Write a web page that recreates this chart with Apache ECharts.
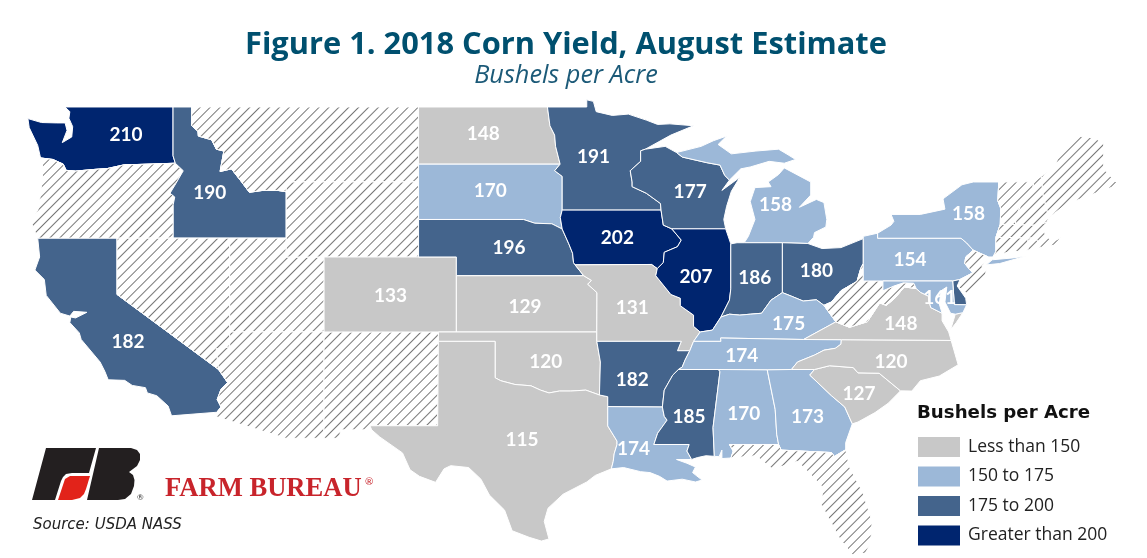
<!DOCTYPE html>
<html>
<head>
<meta charset="utf-8">
<title>Figure 1. 2018 Corn Yield, August Estimate</title>
<script src="https://cdn.jsdelivr.net/npm/echarts@6/dist/echarts.min.js"></script>
<style>
html,body{margin:0;padding:0;background:#fff;}
#chart{width:1147px;height:558px;}
</style>
</head>
<body>
<div id="chart"></div>
<script>
// values
var stateNames=["WA","ID","CA","ND","SD","NE","CO","KS","OK","TX","MN","IA","MO","AR","LA","WI","IL","MS","MI","IN","OH","KY","TN","AL","GA","SC","NC","VA","PA","NY","MD","DE"];
var stateValues=[210,190,182,148,170,196,133,129,120,115,191,202,131,182,174,177,207,185,158,186,180,175,174,170,173,127,120,148,154,158,161,180];
// states with no estimate, hatched
var noEstimateStates=["OR","NV","UT","AZ","NM","MT","WY","WV","NJ","CT","RI","MA","VT","NH","ME","FL"];
var legendLabels=["Less than 150","150 to 175","175 to 200","Greater than 200"];
var legendColors=["#c8c8c8","#9cb8d8","#44648c","#00256f"];

// [lon,lat] where the number sits inside each state
var labelCenters={
    WA:[-119.53,47.49],ID:[-115.1,44.4],CA:[-119.42,36.46],ND:[-100.63,47.59],SD:[-100.26,44.51],NE:[-99.26,41.49],
    CO:[-105.53,38.95],KS:[-98.42,38.35],OK:[-97.32,35.43],TX:[-98.58,31.27],MN:[-94.79,46.35],IA:[-93.53,42.03],
    MO:[-92.74,38.3],AR:[-92.74,34.46],LA:[-92.68,30.78],WI:[-89.68,44.46],IL:[-89.37,39.92],MS:[-89.74,32.46],
    MI:[-85.16,43.76],IN:[-86.26,39.86],OH:[-83.0,40.24],KY:[-84.47,37.43],TN:[-86.95,35.7],AL:[-86.84,32.62],
    GA:[-83.47,32.46],SC:[-80.74,33.7],NC:[-79.05,35.43],VA:[-78.53,37.43],PA:[-78.05,40.84],NY:[-74.95,43.32],
    MD:[-76.47,38.84],DE:[-75.4,39]
};

// simplified state outlines, lon/lat, for registerMap
var stateShapes={
    WA:[[[-117.04,49],[-122.76,49],[-122.5,48.75],[-122.55,48.4],[-122.35,47.95],[-122.4,47.4],[-122.9,47.1],[-122.65,47.75],[-122.75,48.15],[-123.2,48.15],[-124,48.17],[-124.72,48.38],[-124.65,47.9],[-124.2,46.95],[-124.05,46.28],[-123.4,46.2],[-122.85,45.95],[-122.7,45.62],[-122.2,45.58],[-121.2,45.67],[-120.5,45.72],[-119.6,45.92],[-119,45.93],[-116.92,46],[-117.04,46.4]]],
    OR:[[[-124.05,46.28],[-123.4,46.2],[-122.85,45.95],[-122.7,45.62],[-122.2,45.58],[-121.2,45.67],[-120.5,45.72],[-119.6,45.92],[-119,45.93],[-116.92,46],[-116.5,45.6],[-116.9,44.9],[-117.2,44.4],[-116.95,44.2],[-117.03,43.8],[-117.03,42],[-124.2,42],[-124.55,42.85],[-124.15,43.6],[-123.95,45.2],[-123.95,46.2]]],
    ID:[[[-117.04,49],[-116.05,49],[-116.05,48],[-115.72,47.7],[-115.7,47.45],[-115,47.25],[-114.75,46.75],[-114.35,46.65],[-114.47,46],[-114.55,45.56],[-113.95,45.7],[-113.45,45.05],[-113,44.45],[-112.3,44.55],[-111.5,44.55],[-111.05,44.48],[-111.05,42],[-117.03,42],[-117.03,43.8],[-116.95,44.2],[-117.2,44.4],[-116.9,44.9],[-116.5,45.6],[-116.92,46],[-117.04,46.4]]],
    CA:[[[-124.2,42],[-120,42],[-120,39],[-114.63,35],[-114.15,34.3],[-114.5,33.95],[-114.7,33.4],[-114.5,33],[-114.72,32.72],[-117.12,32.53],[-117.3,33.05],[-117.9,33.6],[-118.4,33.75],[-118.5,34.03],[-119.2,34.15],[-119.6,34.42],[-120.47,34.45],[-120.65,34.9],[-120.9,35.4],[-121.9,36.6],[-122,36.95],[-122.5,37.5],[-122.45,37.8],[-122.2,37.75],[-121.6,38.05],[-122.3,38.1],[-122.5,37.85],[-123,38],[-123.75,38.95],[-123.85,39.8],[-124.35,40.3],[-124.1,41]]],
    NV:[[[-120,42],[-114.04,42],[-114.04,36.2],[-114.75,36.1],[-114.63,35],[-120,39]]],
    UT:[[[-114.04,42],[-111.05,42],[-111.05,41],[-109.05,41],[-109.05,37],[-114.04,37]]],
    AZ:[[[-114.04,37],[-109.05,37],[-109.05,31.33],[-111.07,31.33],[-114.81,32.5],[-114.72,32.72],[-114.5,33],[-114.7,33.4],[-114.5,33.95],[-114.15,34.3],[-114.63,35],[-114.75,36.1],[-114.04,36.2]]],
    NM:[[[-109.05,37],[-103,37],[-103.04,32],[-106.62,32],[-106.53,31.78],[-108.2,31.78],[-108.2,31.33],[-109.05,31.33]]],
    MT:[[[-116.05,49],[-104.05,49],[-104.05,45],[-111.05,45],[-111.05,44.48],[-111.5,44.55],[-112.3,44.55],[-113,44.45],[-113.45,45.05],[-113.95,45.7],[-114.55,45.56],[-114.47,46],[-114.35,46.65],[-114.75,46.75],[-115,47.25],[-115.7,47.45],[-115.72,47.7],[-116.05,48]]],
    WY:[[[-111.05,45],[-104.05,45],[-104.05,41],[-111.05,41]]],
    CO:[[[-109.05,41],[-102.05,41],[-102.05,37],[-109.05,37]]],
    ND:[[[-104.05,49],[-97.23,49],[-97.1,48],[-96.85,47.5],[-96.8,46.9],[-96.56,45.95],[-104.05,45.95]]],
    SD:[[[-104.05,45.95],[-96.56,45.95],[-96.85,45.6],[-96.45,45.3],[-96.45,43.5],[-96.55,43.1],[-96.45,42.49],[-97,42.77],[-97.9,42.8],[-98.5,43],[-104.05,43]]],
    NE:[[[-104.05,43],[-98.5,43],[-97.9,42.8],[-97,42.77],[-96.45,42.49],[-96.1,41.7],[-95.9,41.2],[-95.85,40.7],[-95.77,40.58],[-95.31,40],[-102.05,40],[-102.05,41],[-104.05,41]]],
    KS:[[[-102.05,40],[-95.31,40],[-94.9,39.75],[-95.1,39.55],[-94.61,39.1],[-94.62,37],[-102.05,37]]],
    OK:[[[-103,37],[-94.62,37],[-94.62,36.5],[-94.43,35.4],[-94.48,33.64],[-95.2,33.9],[-96,33.85],[-96.6,33.85],[-97.15,33.75],[-97.6,33.9],[-98.1,34.13],[-98.95,34.2],[-99.7,34.4],[-100,34.56],[-100,36.5],[-103,36.5]]],
    TX:[[[-103,36.5],[-100,36.5],[-100,34.56],[-99.7,34.4],[-98.95,34.2],[-98.1,34.13],[-97.6,33.9],[-97.15,33.75],[-96.6,33.85],[-96,33.85],[-95.2,33.9],[-94.48,33.64],[-94.04,33.55],[-94.04,33.02],[-94.04,31.99],[-93.55,31.18],[-93.55,31],[-93.7,30.5],[-93.75,30.1],[-93.85,29.7],[-94.7,29.35],[-95.15,29],[-96.4,28.35],[-97.2,27.6],[-97.4,26.9],[-97.15,25.96],[-97.55,25.85],[-98.2,26.05],[-99.1,26.4],[-99.5,27.5],[-100.3,28.3],[-100.75,29.15],[-101.4,29.77],[-102.35,29.87],[-102.7,29.7],[-103.15,28.98],[-104,29.3],[-104.5,29.65],[-104.9,30.55],[-106.1,31.4],[-106.53,31.78],[-106.62,32],[-103.04,32]]],
    MN:[[[-97.23,49],[-95.15,49],[-95.15,49.38],[-94.8,49.3],[-94.65,48.75],[-93.8,48.55],[-92.95,48.62],[-92,48.3],[-91.4,48.07],[-90.75,48.1],[-89.5,48],[-90.7,47.5],[-92.05,46.75],[-92.3,46.66],[-92.3,46.1],[-92.85,45.6],[-92.75,45],[-92.75,44.75],[-92,44.4],[-91.25,43.85],[-91.22,43.5],[-96.45,43.5],[-96.45,45.3],[-96.85,45.6],[-96.56,45.95],[-96.8,46.9],[-96.85,47.5],[-97.1,48]]],
    IA:[[[-96.45,43.5],[-91.22,43.5],[-91.1,42.7],[-90.65,42.5],[-90.15,41.9],[-90.35,41.55],[-91.05,41.25],[-91.1,40.7],[-91.42,40.38],[-91.72,40.6],[-95.77,40.58],[-95.85,40.7],[-95.9,41.2],[-96.1,41.7],[-96.45,42.49],[-96.55,43.1]]],
    MO:[[[-95.77,40.58],[-91.72,40.6],[-91.42,40.38],[-91.5,40],[-90.7,39],[-90.2,38.8],[-90.2,38.4],[-89.5,37.9],[-89.5,37.3],[-89.15,37],[-89.5,36.5],[-89.7,36],[-90.35,36],[-90.15,36.5],[-94.62,36.5],[-94.62,37],[-94.61,39.1],[-95.1,39.55],[-94.9,39.75],[-95.31,40]]],
    AR:[[[-94.62,36.5],[-90.15,36.5],[-90.35,36],[-89.7,36],[-89.95,35.5],[-90.1,35.13],[-90.3,35],[-90.6,34.7],[-91.05,33.9],[-91.15,33],[-94.04,33.02],[-94.04,33.55],[-94.48,33.64],[-94.43,35.4]]],
    LA:[[[-94.04,33.02],[-91.15,33],[-91.05,32.5],[-90.9,32.3],[-91.4,31.6],[-91.6,31],[-89.73,31],[-89.85,30.65],[-89.6,30.2],[-90.4,30.2],[-89.85,30],[-89.4,29.8],[-89.55,29.5],[-89.05,29.1],[-89.4,29],[-90.1,29.15],[-90.9,29.05],[-91.3,29.3],[-91.8,29.5],[-92.3,29.55],[-93.2,29.77],[-93.85,29.7],[-93.75,30.1],[-93.7,30.5],[-93.55,31],[-93.55,31.18],[-94.04,31.99]]],
    WI:[[[-92.05,46.75],[-91,46.9],[-90.4,46.57],[-90.1,46.33],[-88.8,46.03],[-88.1,45.9],[-87.85,45.35],[-87.6,45.1],[-88,44.55],[-87.05,45.25],[-87.5,44.5],[-87.75,43.7],[-87.9,43],[-87.8,42.5],[-90.65,42.5],[-91.1,42.7],[-91.22,43.5],[-91.25,43.85],[-92,44.4],[-92.75,44.75],[-92.75,45],[-92.85,45.6],[-92.3,46.1],[-92.3,46.66]]],
    IL:[[[-90.65,42.5],[-87.8,42.5],[-87.53,41.7],[-87.53,39.3],[-87.6,38.7],[-88.05,37.8],[-88.5,37.1],[-89.15,37],[-89.5,37.3],[-89.5,37.9],[-90.2,38.4],[-90.2,38.8],[-90.7,39],[-91.5,40],[-91.42,40.38],[-91.1,40.7],[-91.05,41.25],[-90.35,41.55],[-90.15,41.9]]],
    MS:[[[-90.3,35],[-88.2,35],[-88.1,34.9],[-88.47,31.9],[-88.4,30.37],[-88.85,30.4],[-89.3,30.3],[-89.6,30.2],[-89.85,30.65],[-89.73,31],[-91.6,31],[-91.4,31.6],[-90.9,32.3],[-91.05,32.5],[-91.15,33],[-91.05,33.9],[-90.6,34.7]]],
    MI:[[[-86.82,41.76],[-84.8,41.76],[-83.45,41.72],[-83.15,42.05],[-83.1,42.3],[-82.5,42.6],[-82.45,43],[-82.6,43.9],[-83,44.07],[-83.9,43.65],[-83.3,44.3],[-83.3,45],[-84.7,45.75],[-85,45.4],[-85.55,45],[-85.4,44.75],[-86.25,44.7],[-86.5,43.95],[-86.25,43],[-86.6,42.1]],
        [[-90.4,46.57],[-89.1,46.9],[-88.45,47.2],[-87.75,47.45],[-88.2,47],[-87.5,46.5],[-86.2,46.65],[-85,46.75],[-84.5,46.45],[-84.1,46.2],[-84.7,46],[-85.5,46.1],[-86.5,45.8],[-87,45.7],[-87.6,45.1],[-87.85,45.35],[-88.1,45.9],[-88.8,46.03],[-90.1,46.33]]],
    IN:[[[-87.53,41.7],[-87.2,41.76],[-86.82,41.76],[-84.8,41.76],[-84.8,39.1],[-85.4,38.7],[-85.9,38],[-86.5,37.95],[-87.05,37.9],[-87.6,37.95],[-88.05,37.8],[-87.6,38.7],[-87.53,39.3]]],
    OH:[[[-84.8,41.76],[-83.45,41.72],[-82.7,41.45],[-81.7,41.5],[-80.52,41.98],[-80.52,40.64],[-80.65,40.4],[-80.85,39.7],[-81.7,39.2],[-82.2,38.6],[-82.6,38.42],[-83,38.72],[-83.7,38.65],[-84.3,38.9],[-84.8,39.1]]],
    KY:[[[-89.5,36.5],[-89.15,37],[-88.5,37.1],[-88.05,37.8],[-87.6,37.95],[-87.05,37.9],[-86.5,37.95],[-85.9,38],[-85.4,38.7],[-84.8,39.1],[-84.3,38.9],[-83.7,38.65],[-83,38.72],[-82.6,38.42],[-81.97,37.54],[-83.68,36.6],[-88.07,36.68],[-88.05,36.5]]],
    TN:[[[-89.5,36.5],[-88.05,36.5],[-88.07,36.68],[-83.68,36.6],[-81.68,36.59],[-81.7,36.35],[-82,36.13],[-82.6,36.03],[-83.1,35.77],[-84,35.4],[-84.32,35],[-85.6,34.98],[-88.2,35],[-90.3,35],[-90.1,35.13],[-89.95,35.5],[-89.7,36]]],
    AL:[[[-88.2,35],[-85.6,34.98],[-85.18,32.87],[-85.1,31.55],[-85,31],[-87.6,31],[-87.4,30.65],[-87.52,30.28],[-88,30.25],[-88,30.7],[-88.15,30.35],[-88.4,30.37],[-88.47,31.9],[-88.1,34.9]]],
    GA:[[[-85.6,34.98],[-84.32,35],[-83.1,35],[-83.35,34.7],[-82.2,33.6],[-81.5,33],[-81.1,32.1],[-81.45,31.1],[-81.45,30.72],[-82.05,30.36],[-82.2,30.57],[-84.86,30.7],[-85,31],[-85.1,31.55],[-85.18,32.87]]],
    FL:[[[-87.6,31],[-85,31],[-84.86,30.7],[-82.2,30.57],[-82.05,30.36],[-81.45,30.72],[-81.25,29.8],[-80.55,28.45],[-80.05,26.9],[-80.13,25.75],[-80.4,25.2],[-81.1,25.13],[-81.75,25.95],[-82.2,26.8],[-82.75,27.8],[-82.65,28.7],[-83.4,29.5],[-84,30.1],[-85.3,29.68],[-86.2,30.4],[-87.52,30.28],[-87.4,30.65]]],
    SC:[[[-83.1,35],[-82.3,35.2],[-81.05,35.1],[-80.8,34.82],[-79.68,34.8],[-78.55,33.86],[-79.2,33.2],[-79.9,32.7],[-80.8,32.2],[-81.1,32.1],[-81.5,33],[-82.2,33.6],[-83.35,34.7]]],
    NC:[[[-84.32,35],[-84,35.4],[-83.1,35.77],[-82.6,36.03],[-82,36.13],[-81.7,36.35],[-81.68,36.59],[-75.87,36.55],[-75.5,35.25],[-76.5,34.65],[-77.5,34.4],[-77.95,33.85],[-78.55,33.86],[-79.68,34.8],[-80.8,34.82],[-81.05,35.1],[-82.3,35.2],[-83.1,35]]],
    VA:[[[-83.68,36.6],[-81.68,36.59],[-75.87,36.55],[-76,37],[-76.35,37.6],[-76.35,38],[-76.95,38.3],[-77.05,38.7],[-77.05,38.9],[-77.5,39.12],[-77.72,39.32],[-78.35,39.4],[-78.85,38.8],[-79.3,38.42],[-79.65,38.55],[-80.3,37.55],[-81.25,37.25],[-81.97,37.54]],
        [[-75.9,37.12],[-75.65,37.95],[-75.25,38.03],[-75.6,37.5]]],
    WV:[[[-82.6,38.42],[-82.2,38.6],[-81.7,39.2],[-80.85,39.7],[-80.65,40.4],[-80.52,40.64],[-80.52,39.72],[-79.48,39.72],[-79.48,39.2],[-78.9,39.45],[-78.4,39.62],[-77.85,39.6],[-77.72,39.32],[-78.35,39.4],[-78.85,38.8],[-79.3,38.42],[-79.65,38.55],[-80.3,37.55],[-81.25,37.25],[-81.97,37.54]]],
    PA:[[[-80.52,41.98],[-80.52,42.1],[-79.76,42.27],[-79.76,42],[-75.35,42],[-75.05,41.75],[-74.7,41.36],[-75.1,41],[-75.15,40.65],[-74.73,40.15],[-75.4,39.8],[-75.79,39.72],[-80.52,39.72],[-80.52,40.64]]],
    NY:[[[-79.76,42.27],[-79.05,42.7],[-78.9,42.9],[-79.05,43.27],[-77.5,43.27],[-76.2,43.55],[-76.3,44.1],[-75.3,44.85],[-74.7,45],[-73.35,45],[-73.4,44],[-73.25,43.6],[-73.27,42.75],[-73.5,42.05],[-73.5,41.3],[-73.65,41],[-73.9,41],[-74.7,41.36],[-75.05,41.75],[-75.35,42],[-79.76,42]],
        [[-74,40.58],[-73.3,40.65],[-71.9,41.05],[-72.6,40.95],[-73.7,40.85]]],
    NJ:[[[-74.7,41.36],[-73.9,41],[-74.25,40.5],[-74,40.4],[-74.1,39.75],[-74.9,38.95],[-75.55,39.45],[-75.4,39.8],[-74.73,40.15],[-75.15,40.65],[-75.1,41]]],
    DE:[[[-75.79,39.72],[-75.4,39.8],[-75.55,39.45],[-75.1,38.8],[-75.05,38.45],[-75.7,38.46]]],
    MD:[[[-79.48,39.72],[-75.79,39.72],[-75.7,38.46],[-75.05,38.45],[-75.25,38.03],[-75.65,37.95],[-75.9,38],[-76.2,38.6],[-76.1,39.4],[-76.4,39.2],[-76.5,38.5],[-76.35,38],[-76.95,38.3],[-77.05,38.7],[-77.05,38.9],[-77.5,39.12],[-77.72,39.32],[-77.85,39.6],[-78.4,39.62],[-78.9,39.45],[-79.48,39.2]]],
    CT:[[[-73.65,41],[-73.5,41.3],[-73.5,42.05],[-71.8,42.02],[-71.8,41.35],[-72.9,41.25]]],
    RI:[[[-71.8,42.02],[-71.38,42.02],[-71.15,41.5],[-71.8,41.35]]],
    MA:[[[-73.5,42.05],[-73.27,42.75],[-72.46,42.73],[-71.3,42.7],[-70.8,42.87],[-70.95,42.3],[-70.55,41.8],[-70,42.05],[-69.95,41.7],[-70.9,41.55],[-71.15,41.5],[-71.38,42.02],[-71.8,42.02]]],
    VT:[[[-73.35,45],[-71.5,45.01],[-71.55,44.6],[-72.05,44.1],[-72.45,43.1],[-72.46,42.73],[-73.27,42.75],[-73.25,43.6],[-73.4,44]]],
    NH:[[[-71.5,45.01],[-71.1,45.3],[-71,44.3],[-70.7,43.1],[-70.8,42.87],[-71.3,42.7],[-72.46,42.73],[-72.45,43.1],[-72.05,44.1],[-71.55,44.6]]],
    ME:[[[-71.1,45.3],[-70.4,45.75],[-70.25,46.2],[-70,46.7],[-69.25,47.45],[-68.3,47.35],[-67.8,47.07],[-67.8,45.7],[-67.45,45.3],[-67,44.85],[-68.5,44.3],[-69.8,43.8],[-70.7,43.1],[-71,44.3]]]
};

var features=[];
for(var code in stateShapes){
    var polys=stateShapes[code].map(function(ring){return [ring.concat([ring[0]])];});
    features.push({
        type:"Feature",
        properties:{name:code,cp:labelCenters[code]},
        geometry:{type:"MultiPolygon",coordinates:polys}
    });
}
echarts.registerMap("usa",{type:"FeatureCollection",features:features});

var hatch={color:"#777",dashArrayX:[1,0],dashArrayY:[1,6],symbolSize:1,rotation:-Math.PI/4};

var mapData=stateNames.map(function(name,i){
    var item={name:name,value:stateValues[i]};
    if(name==="DE")item.label={show:false};
    return item;
});
noEstimateStates.forEach(function(name){
    mapData.push({name:name,value:NaN,itemStyle:{areaColor:"#fff",decal:hatch}});
});

var myChart=echarts.init(document.getElementById("chart"),null,{renderer:"canvas"});
myChart.setOption({
    backgroundColor:"#fff",
    animation:false,
    title:[
        {text:"Figure 1. 2018 Corn Yield, August Estimate",left:566,top:30,padding:0,textAlign:"center",
            textStyle:{fontFamily:"Open Sans",fontWeight:"bold",fontSize:30.8,color:"#00506f"}},
        {text:"Bushels per Acre",left:566,top:63,padding:0,textAlign:"center",
            textStyle:{fontFamily:"Open Sans",fontStyle:"italic",fontWeight:"normal",fontSize:25.3,color:"#1c5a78"}},
        {text:"Bushels per Acre",left:917,top:404,padding:0,
            textStyle:{fontFamily:"DejaVu Sans",fontWeight:"bold",fontSize:18.2,color:"#111"}},
        {text:"Source: USDA NASS",left:33,top:518,padding:0,
            textStyle:{fontFamily:"DejaVu Sans",fontStyle:"italic",fontWeight:"normal",fontSize:15,color:"#222"}}
    ],
    visualMap:{
        type:"piecewise",
        seriesIndex:0,
        left:918,
        top:437,
        orient:"vertical",
        inverse:true,
        align:"left",
        itemWidth:42,
        itemHeight:20,
        itemGap:9.5,
        itemSymbol:"rect",
        textGap:8,
        padding:0,
        selectedMode:false,
        hoverLink:false,
        showLabel:true,
        textStyle:{fontFamily:"Open Sans",fontSize:17.5,color:"#222"},
        pieces:[
            {lt:150,label:legendLabels[0],color:legendColors[0]},
            {gte:150,lte:175,label:legendLabels[1],color:legendColors[1]},
            {gt:175,lte:200,label:legendLabels[2],color:legendColors[2]},
            {gt:200,label:legendLabels[3],color:legendColors[3]}
        ],
        outOfRange:{color:"#fff"}
    },
    series:[{
        type:"map",
        map:"usa",
        silent:true,
        roam:false,
        showLegendSymbol:false,
        boundingCoords:[[-125,49.5],[-67,25]],
        left:22.6,
        top:97.6,
        width:1096.2,
        height:459.4,
        itemStyle:{borderColor:"#fff",borderWidth:1,areaColor:"#fff"},
        label:{
            show:true,
            color:"#fff",
            fontFamily:"Lato",
            fontWeight:"bold",
            fontSize:19,
            formatter:function(p){return isNaN(p.value)?"":String(p.value);}
        },
        emphasis:{disabled:true},
        data:mapData
    }],
    graphic:[
        {type:"polygon",shape:{points:[[46,448],[96,448],[89,473],[72,473],[66,474],[63,477],[61,481],[55,500],[32,500]]},style:{fill:"#231f20"}},
        {type:"polygon",shape:{points:[[70,476],[90,476],[86,489],[84,494],[80,498],[72,500],[58,500],[63,485],[65,479]]},style:{fill:"#e2231a"}},
        {type:"polygon",shape:{points:[[99,448],[131,448],[137,450],[140,454],[140,460],[137,466],[129,472],[133,475],[134.5,480],[134,486],[131,494],[125,499],[118,500],[87,500]]},style:{fill:"#231f20"}},
        {type:"text",x:137,y:493,style:{text:"®",font:"8px Lato",fill:"#333"}},
        {type:"text",x:165,y:476,style:{text:"FARM BUREAU",font:"bold 26.6px 'Liberation Serif'",fill:"#c8242b"}},
        {type:"text",x:365,y:477,style:{text:"®",font:"10px Lato",fill:"#c8242b"}}
    ]
});
</script>
</body>
</html>
